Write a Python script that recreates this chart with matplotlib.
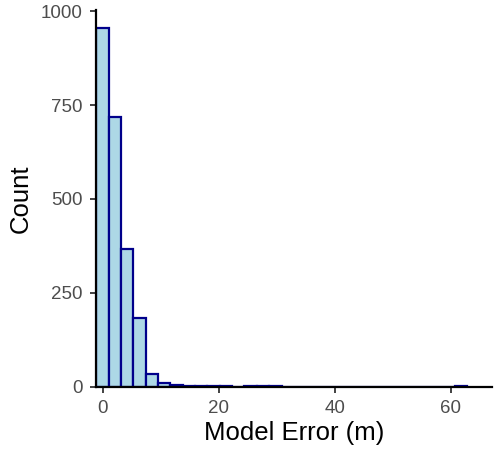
import numpy as np
import matplotlib
matplotlib.use("Agg")
import matplotlib.pyplot as plt

plt.rcParams['font.family'] = ['Liberation Sans', 'DejaVu Sans']

# histogram bins (ggplot style, 30 bins)
bin_start = -1.12
bin_width = 2.13
counts = [956, 718, 366, 182, 34, 10, 5, 2, 1, 1, 1, 0, 1, 1, 1,
          0, 0, 0, 0, 0, 0, 0, 0, 0, 0, 0, 0, 0, 0, 1]
x_ticks = [0, 20, 40, 60]
y_ticks = [0, 250, 500, 750, 1000]

edges = bin_start + bin_width * np.arange(len(counts))

fig = plt.figure(figsize=(4.94, 4.59), dpi=100)
ax = fig.add_axes([96 / 494, (459 - 386.7) / 459, (492 - 96) / 494, (386.7 - 10) / 459])

ax.bar(edges, counts, width=bin_width, align='edge', color='#ADD8E6',
       edgecolor='#00008B', linewidth=1.6)

ax.set_xlim(-1.15, 67.1)
ax.set_ylim(0, 1003)
ax.set_xticks(x_ticks)
ax.set_yticks(y_ticks)

for s in ['top', 'right']:
    ax.spines[s].set_visible(False)
for s in ['left', 'bottom']:
    ax.spines[s].set_linewidth(1.6)
    ax.spines[s].set_color('black')

ax.tick_params(axis='both', length=4, width=1.3, color='#333333',
               labelsize=13.5, labelcolor='#4D4D4D', pad=5.5)

ax.set_xlabel('Model Error (m)', fontsize=18.5, color='black', labelpad=3)
ax.set_ylabel('Count', fontsize=18.5, color='black', labelpad=6)

fig.savefig('out.png', dpi=100)
